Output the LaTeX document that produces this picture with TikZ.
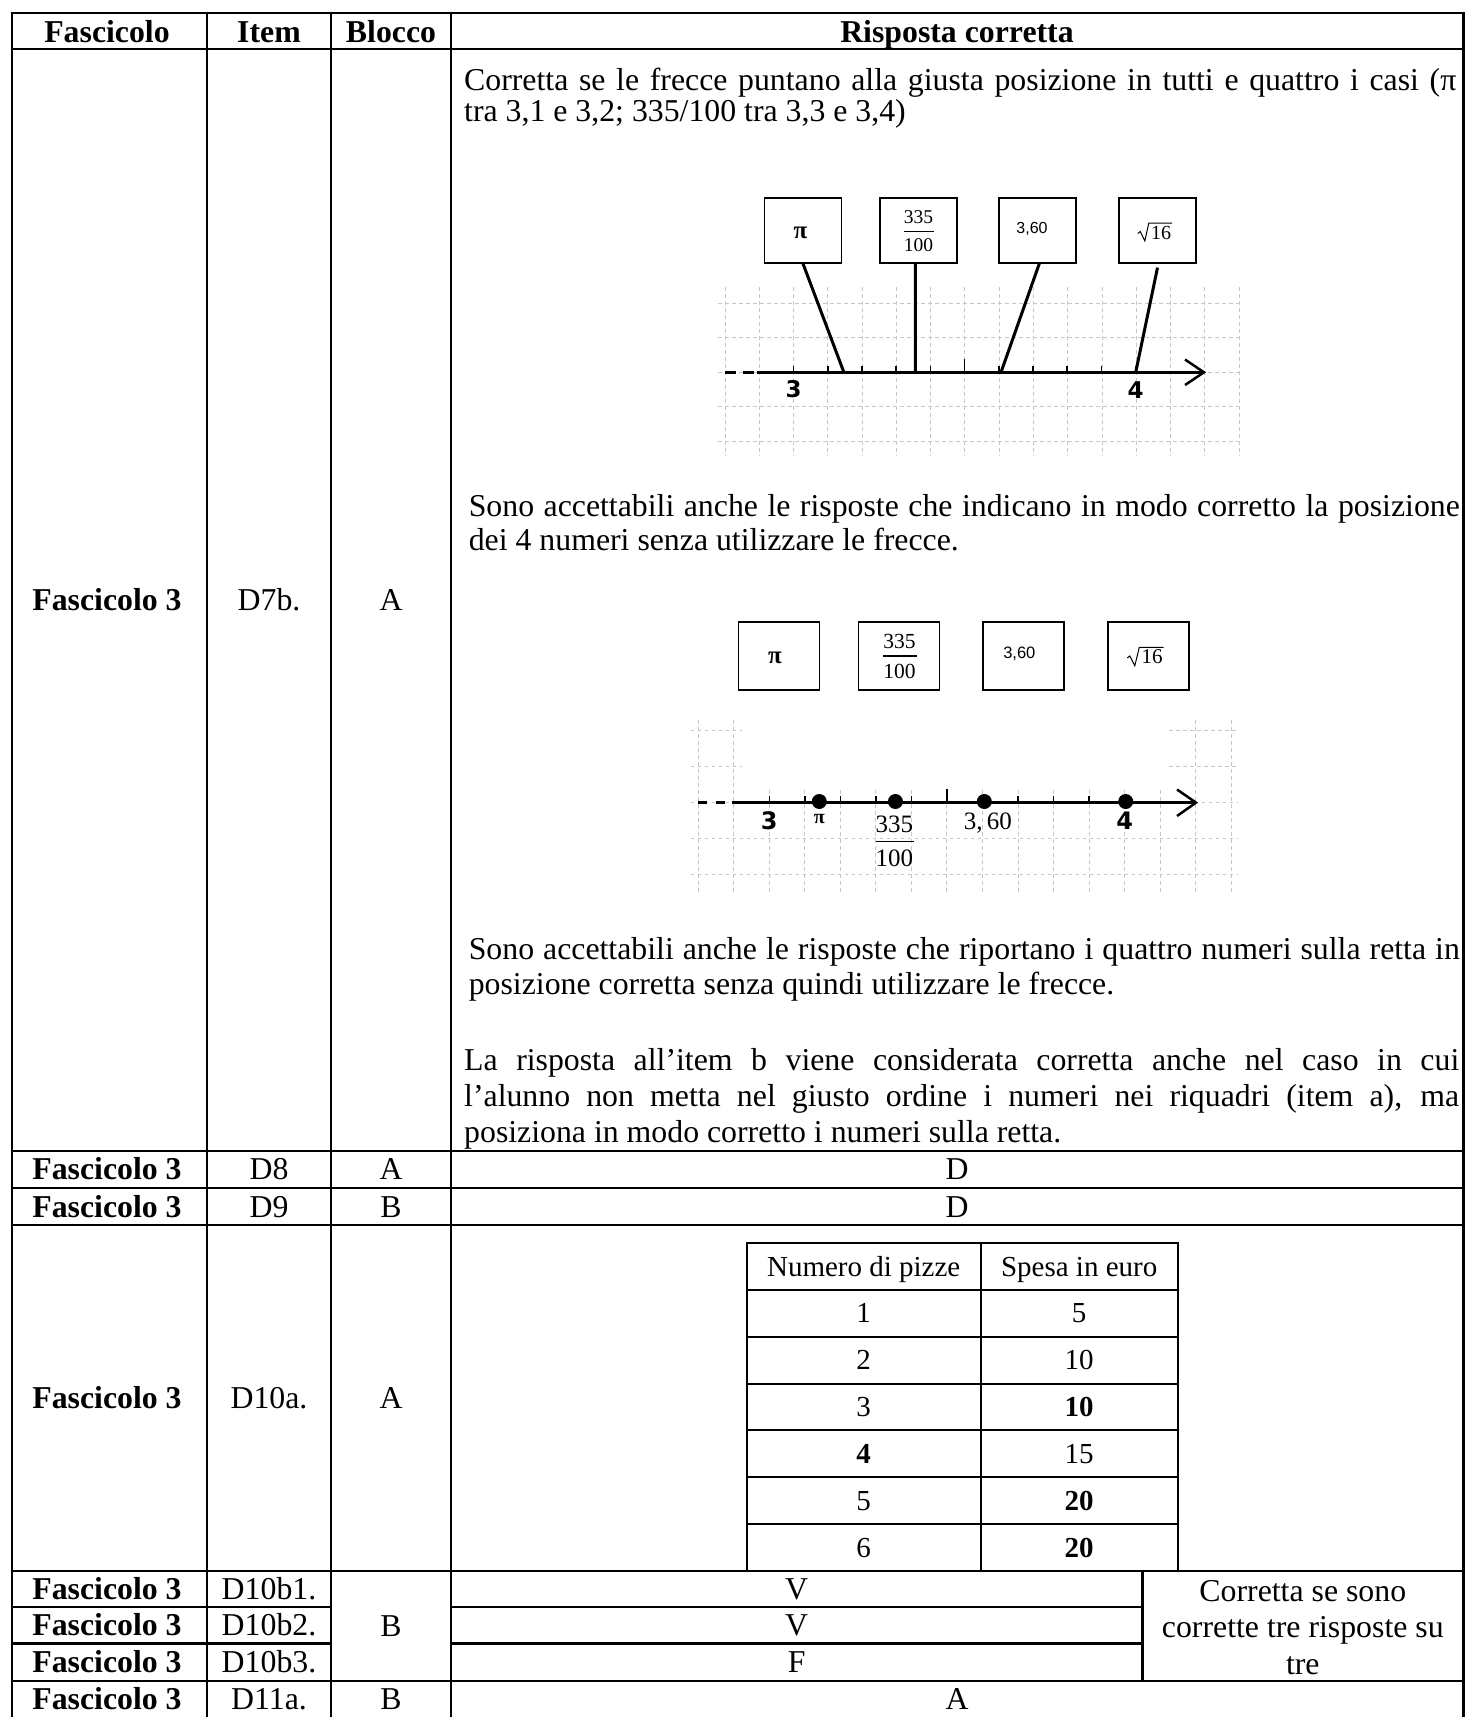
\documentclass[tikz,border=0pt]{standalone}
\usepackage{fontspec}
\setmainfont{Liberation Serif}
\newfontfamily\dvs{DejaVu Sans}
\newfontfamily\lsans{Liberation Sans}
\newcommand{\fsz}[1]{\fontsize{#1}{#1}\selectfont}
\begin{document}
\begin{tikzpicture}[x=1pt,y=-1pt,
  tline/.style={line width=2.2pt, line cap=rect},
  pline/.style={line width=2pt},
  tcell/.style={anchor=base, inner sep=0pt, font=\fsz{31.8}},
  hcell/.style={anchor=base, inner sep=0pt, font=\fsz{31.8}\bfseries},
  para/.style={anchor=base west, inner sep=0pt, font=\fsz{31.8}},
  pz/.style={anchor=base, inner sep=0pt, font=\fsz{29}},
  numbox/.style={draw, line width=1.3pt, inner sep=0pt},
  gridln/.style={draw=black!22, line width=1pt, dash pattern=on 3.5pt off 3.5pt},
  ptr/.style={line width=3pt},
  axisline/.style={line width=2.8pt},
  tk/.style={line width=1.6pt},
  chev/.style={line width=2.5pt, line join=miter},
  blackdot/.style={circle, fill=black, inner sep=0pt, minimum size=15pt},
  blab/.style={inner sep=0pt, font=\dvs\bfseries\fsz{23}},
  sfig/.style={inner sep=0pt},
  rad/.style={line width=1pt, line join=miter}
]
\useasboundingbox (0,0) rectangle (1466,1717);
\fill[white] (0,0) rectangle (1466,1717);

% ---------------- table rules ----------------
\foreach \xx in {11.7,207.3,331,450.7,1463.5} \draw[tline] (\xx,12.7) -- (\xx,1725);
\foreach \yy in {12.7,49,1150.7,1188,1225.2,1571.2,1680.7} \draw[tline] (11.7,\yy) -- (1463.5,\yy);
\foreach \yy in {1607.3,1643.5} {
  \draw[tline] (11.7,\yy) -- (331,\yy);
  \draw[tline] (450.7,\yy) -- (1142.5,\yy);
}
\draw[tline] (1142.5,1571.2) -- (1142.5,1680.7);

% ---------------- header ----------------
\node[hcell] (h1) at (107,42) {Fascicolo};
\node[hcell] (h2) at (269,42) {Item};
\node[hcell] (h3) at (391,42) {Blocco};
\node[hcell] (h4) at (957,42) {Risposta corretta};

% ---------------- D7b row ----------------
\node[hcell] (r1a) at (107,610.5) {Fascicolo 3};
\node[tcell] (r1b) at (269,610.5) {D7b.};
\node[tcell] (r1c) at (391,610.5) {A};

\node[para] (t1) at (464,90.4) {\makebox[992pt][s]{Corretta se le frecce puntano alla giusta posizione in tutti e quattro i casi (π}};
\node[para] (t2) at (464,121.1) {tra 3,1 e 3,2; 335/100 tra 3,3 e 3,4)};
\node[para] (t3) at (468.6,516.3) {\makebox[991pt][s]{Sono accettabili anche le risposte che indicano in modo corretto la posizione}};
\node[para] (t4) at (468.6,550.3) {dei 4 numeri senza utilizzare le frecce.};
\node[para] (t5) at (468.6,959.8) {\makebox[991pt][s]{Sono accettabili anche le risposte che riportano i quattro numeri sulla retta in}};
\node[para] (t6) at (468.6,994.8) {posizione corretta senza quindi utilizzare le frecce.};
\node[para] (t7) at (464,1070.4) {\makebox[995pt][s]{La risposta all’item b viene considerata corretta anche nel caso in cui}};
\node[para] (t8) at (464,1106.5) {\makebox[995pt][s]{l’alunno non metta nel giusto ordine i numeri nei riquadri (item a), ma}};
\node[para] (t9) at (464,1142.6) {posiziona in modo corretto i numeri sulla retta.};

% ---------------- figure 1 ----------------
\foreach \k in {0,...,15} \draw[gridln] ({725+34.28*\k},287) -- ({725+34.28*\k},456);
\foreach \yy in {303.3,337.8,372.3,406.8,441.3} \draw[gridln] (718,\yy) -- (1243,\yy);

\draw[axisline] (757,372.3) -- (1203,372.3);
\draw[axisline, dash pattern=on 10.7pt off 7.2pt] (725,372.3) -- (753.6,372.3);
\coordinate (a1tip) at (1204,372.3);
\draw[chev] (1185,359.5) -- (a1tip) -- (1185,385);
\foreach \k in {0,...,10} \draw[tk] ({793.6+34.21*\k},372.3) -- ({793.6+34.21*\k},366);
\draw[tk] (964.6,372.3) -- (964.6,359);
\node[blab] (l13) at (793.6,389) {3};
\node[blab] (l14) at (1135.7,390) {4};

\node[numbox, minimum width=77pt, minimum height=65pt] (b1) at (803,230.5) {};
\node[numbox, minimum width=77pt, minimum height=65pt] (b2) at (918.6,230.5) {};
\node[numbox, minimum width=77pt, minimum height=65pt] (b3) at (1037.5,230.5) {};
\node[numbox, minimum width=77pt, minimum height=65pt] (b4) at (1157.5,230.5) {};

\node[sfig, font=\fsz{25}\bfseries] (b1t) at (800.5,233) {π};
\node[sfig, font=\fsz{19.5}] (b2n) at (918.6,217) {335};
\node[sfig, font=\fsz{19.5}] (b2d) at (918.6,245.5) {100};
\draw[line width=1.2pt] (904,231.5) -- (934,231.5);
\node[sfig, font=\lsans\fsz{16}] (b3t) at (1032,229) {3,60};
\node[sfig, font=\fsz{20}] (b4t) at (1161,232.5) {16};
\draw[rad] ([shift={(-13,1)}]b4t.west) -- ([shift={(-10.5,-1)}]b4t.west) -- ([shift={(-6,1.5)}]b4t.south west) -- ([shift={(-2,-2.5)}]b4t.north west) -- ([shift={(1,-2.5)}]b4t.north east);

\coordinate (p1) at (843.9,372.3);
\coordinate (p2) at (915.4,372.3);
\coordinate (p3) at (1001,372.3);
\coordinate (p4) at (1135.7,372.3);
\draw[ptr] (b1.south) -- (p1);
\draw[ptr] ([xshift=-3.2pt]b2.south) -- (p2);
\draw[ptr] ([xshift=1.8pt]b3.south) -- (p3);
\draw[ptr] ([yshift=-4pt]b4.south) -- (p4);

% ---------------- figure 2 ----------------
\foreach \k in {-2,-1,12,13} \draw[gridln] ({769.3+35.53*\k},720) -- ({769.3+35.53*\k},893);
\foreach \k in {0,...,11} \draw[gridln] ({769.3+35.53*\k},790) -- ({769.3+35.53*\k},893);
\foreach \yy in {730.6,766.6} {
  \draw[gridln] (690.7,\yy) -- (742,\yy);
  \draw[gridln] (1169,\yy) -- (1237,\yy);
}
\foreach \yy in {802.6,838.6,874.6} \draw[gridln] (690.7,\yy) -- (1237,\yy);

\draw[axisline] (731.8,802.6) -- (1195,802.6);
\draw[axisline, dash pattern=on 8.9pt off 8.9pt] (697.9,802.6) -- (726.4,802.6);
\coordinate (a2tip) at (1196,802.6);
\draw[chev] (1177,789.5) -- (a2tip) -- (1177,816);
\foreach \k in {0,...,10} \draw[tk] ({769.3+35.53*\k},802.6) -- ({769.3+35.53*\k},796);
\draw[tk] (947,802.6) -- (947,789);

\node[numbox, minimum width=81pt, minimum height=68pt] (c1) at (778.8,656) {};
\node[numbox, minimum width=81pt, minimum height=68pt] (c2) at (899.1,656) {};
\node[numbox, minimum width=81pt, minimum height=68pt] (c3) at (1023.4,656) {};
\node[numbox, minimum width=81pt, minimum height=68pt] (c4) at (1148.4,656) {};

\node[sfig, font=\fsz{25}\bfseries] (c1t) at (775,658) {π};
\node[sfig, font=\fsz{21.5}] (c2n) at (899.6,641) {335};
\node[sfig, font=\fsz{21.5}] (c2d) at (899.6,671.5) {100};
\draw[line width=1.3pt] (883,656) -- (916.5,656);
\node[sfig, font=\lsans\fsz{16.5}] (c3t) at (1019.3,654) {3,60};
\node[sfig, font=\fsz{21}] (c4t) at (1152,657) {16};
\draw[rad] ([shift={(-14,1)}]c4t.west) -- ([shift={(-11.5,-1)}]c4t.west) -- ([shift={(-6.5,1.5)}]c4t.south west) -- ([shift={(-2,-2.5)}]c4t.north west) -- ([shift={(1,-2.5)}]c4t.north east);

\node[blackdot] (d1) at (819.3,801.5) {};
\node[blackdot] (d2) at (895.4,801.5) {};
\node[blackdot] (d3) at (984.3,801.5) {};
\node[blackdot] (d4) at (1125.7,801.5) {};

\node[blab, font=\dvs\bfseries\fsz{24}] (m3) at (769.3,821) {3};
\node[sfig, font=\fsz{20}\bfseries] (mpi) at (819.3,819) {π};
\node[sfig, font=\fsz{25}] (mfn) at (894.3,824) {335};
\draw[line width=1.5pt] (875.7,841.5) -- (913.9,841.5);
\node[sfig, font=\fsz{25}] (mfd) at (894.3,858.5) {100};
\node[sfig, font=\fsz{25}] (m360) at (987.9,823) {3,\,60};
\node[blab, font=\dvs\bfseries\fsz{24}] (m4) at (1124.6,821) {4};

% ---------------- D8, D9 ----------------
\node[hcell] (r2a) at (107,1179.9) {Fascicolo 3};
\node[tcell] (r2b) at (269,1179.9) {D8};
\node[tcell] (r2c) at (391,1179.9) {A};
\node[tcell] (r2d) at (957,1179.9) {D};
\node[hcell] (r3a) at (107,1217.1) {Fascicolo 3};
\node[tcell] (r3b) at (269,1217.1) {D9};
\node[tcell] (r3c) at (391,1217.1) {B};
\node[tcell] (r3d) at (957,1217.1) {D};

% ---------------- D10a ----------------
\node[hcell] (r4a) at (107,1408.7) {Fascicolo 3};
\node[tcell] (r4b) at (269,1408.7) {D10a.};
\node[tcell] (r4c) at (391,1408.7) {A};

\draw[pline] (746.7,1242.7) rectangle (1177.7,1571.2);
\foreach \i in {1,...,6} \draw[pline] (746.7,{1242.7+46.93*\i}) -- (1177.7,{1242.7+46.93*\i});
\draw[pline] (980.7,1242.7) -- (980.7,1571.2);
\node[pz] (ph1) at (863.7,1276) {Numero di pizze};
\node[pz] (ph2) at (1079.2,1276) {Spesa in euro};
\foreach \i/\a/\b in {1/1/5, 2/2/10, 3/3/\textbf{10}, 4/\textbf{4}/15, 5/5/\textbf{20}, 6/6/\textbf{20}} {
  \node[pz] (pa\i) at (863.7,{1266.2+46.93*\i+9.8}) {\a};
  \node[pz] (pb\i) at (1079.2,{1266.2+46.93*\i+9.8}) {\b};
}

% ---------------- D10b ----------------
\node[hcell] (r5a) at (107,1599.8) {Fascicolo 3};
\node[tcell] (r5b) at (269,1599.8) {D10b1.};
\node[tcell] (r5d) at (796.6,1599.8) {V};
\node[hcell] (r6a) at (107,1635.9) {Fascicolo 3};
\node[tcell] (r6b) at (269,1635.9) {D10b2.};
\node[tcell] (r6c) at (391,1636.5) {B};
\node[tcell] (r6d) at (796.6,1635.9) {V};
\node[hcell] (r7a) at (107,1672.6) {Fascicolo 3};
\node[tcell] (r7b) at (269,1672.6) {D10b3.};
\node[tcell] (r7d) at (796.6,1672.6) {F};
\node[tcell] (n1) at (1302.8,1601) {Corretta se sono};
\node[tcell] (n2) at (1302.8,1637.5) {corrette tre risposte su};
\node[tcell] (n3) at (1302.8,1674) {tre};

% ---------------- D11a ----------------
\node[hcell] (r8a) at (107,1709.8) {Fascicolo 3};
\node[tcell] (r8b) at (269,1709.8) {D11a.};
\node[tcell] (r8c) at (391,1709.8) {B};
\node[tcell] (r8d) at (957,1709.8) {A};
\end{tikzpicture}
\end{document}
